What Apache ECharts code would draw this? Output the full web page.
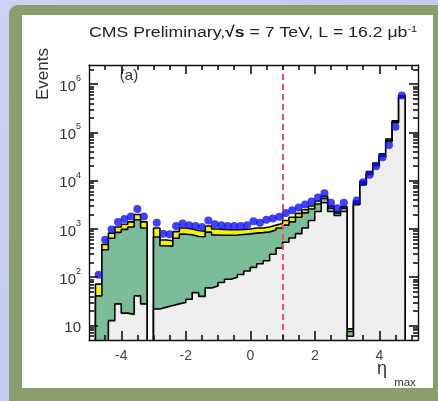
<!DOCTYPE html>
<html><head><meta charset="utf-8">
<script src="https://cdn.jsdelivr.net/npm/echarts@6/dist/echarts.min.js"></script>
<style>
html,body{margin:0;padding:0;width:438px;height:401px;overflow:hidden;}
body{background:linear-gradient(135deg,#cdd1f3,#bcc4ee);position:relative;}
#frame{position:absolute;left:9px;top:5px;width:445px;height:420px;background:#8c9e6e;border-radius:9px;}
#panel{position:absolute;left:22px;top:15px;width:411px;height:373px;background:#ffffff;}
#chart{position:absolute;left:0;top:0;width:438px;height:401px;}
</style></head><body>
<div id="frame"></div><div id="panel"></div><div id="chart"></div>
<script>
// ---- data (eta_max histogram, bin width 0.2) ----
const binLow = [-4.8,-4.6,-4.4,-4.2,-4.0,-3.8,-3.6,-3.4,-3.2,-3.0,-2.8,-2.6,-2.4,-2.2,-2.0,-1.8,-1.6,-1.4,-1.2,-1.0,-0.8,-0.6,-0.4,-0.2,0.0,0.2,0.4,0.6,0.8,1.0,1.2,1.4,1.6,1.8,2.0,2.2,2.4,2.6,2.8,3.0,3.2,3.4,3.6,3.8,4.0,4.2,4.4,4.6];
const binWidth = 0.2;
// data points (null = empty bin)
const dataEvents = [112,600,980,1400,1600,1820,2600,1820,null,1350,800,780,1150,1300,1200,1150,1100,1500,1250,1200,1150,1150,1150,1200,1450,1350,1550,1650,1800,2150,2450,2800,3200,3700,4500,5500,3500,2700,3500,null,3900,9300,13300,19900,30500,55000,131000,580000];
// stacked MC levels (cumulative top of each coloured band)
const stackTotal = [72,480,820,1100,1250,1400,2000,1400,1,1050,590,570,880,1050,1000,930,900,1150,1000,980,960,960,980,1000,1050,1050,1100,1200,1300,1500,1750,2100,2500,3000,3800,4800,3000,2300,2900,8.5,3800,9700,15500,23300,36000,73000,175000,580000];
const stackMid = [41,370,640,850,980,1100,1550,1050,1,680,450,440,640,780,760,700,690,860,750,740,740,750,770,790,820,840,870,950,1050,1200,1400,1750,2150,2600,3300,4300,2700,2150,2700,7.5,3500,9000,14500,22000,34000,69000,168000,560000];
const stackBase = [2,2,12.6,28,18,17,41,28,1,22,24,26,28,30,35,48,40,60,66,78,91,100,114,135,160,190,220,300,400,530,650,800,1050,1500,2300,3500,2300,1900,2300,6,3200,8300,13500,20500,32000,65000,160000,540000];
// axis ticks
const xMajorTicks = [-4,-2,0,2,4];
const xMinorTicks = [-4.5,-3.5,-3,-2.5,-1.5,-1,-0.5,0.5,1,1.5,2.5,3,3.5,4.5,5];
const yMajorTicks = [10,100,1000,10000,100000,1000000];
const yMinorTicks = [6,7,8,9,20,30,40,50,60,70,80,90,200,300,400,500,600,700,800,900,2000,3000,4000,5000,6000,7000,8000,9000,20000,30000,40000,50000,60000,70000,80000,90000,200000,300000,400000,500000,600000,700000,800000,900000,2000000];
const cutEta = 1;

const floorVal = 1; // below axis minimum, clipped
function stepPoints(levels){
  const pts = [[binLow[0], floorVal]];
  levels.forEach((v,i)=>pts.push([binLow[i], v]));
  const last = binLow[binLow.length-1] + binWidth;
  pts.push([last, levels[levels.length-1]]);
  pts.push([last, floorVal]);
  return pts;
}
const dataPts = [];
dataEvents.forEach((v,i)=>{ if(v!==null) dataPts.push([binLow[i]+binWidth/2, v]); });

const FONT = 'Liberation Sans, Arial, sans-serif';
const blk = {color:'#111', width:1.4};
const tk = {color:'#111', width:1.6};
function xAx(pos, ticks, len, showLine, showLabel){
  return {type:'value', min:-5, max:5.2, position:pos, z:10,
    axisLine:{show:showLine, onZero:false, lineStyle:blk},
    axisTick:{show:true, inside:true, length:len, customValues:ticks, lineStyle:tk},
    axisLabel: showLabel ? {show:true, customValues:ticks, margin:9, fontSize:14, color:'#444', fontFamily:FONT} : {show:false},
    splitLine:{show:false}, minorTick:{show:false}};
}
function yAx(pos, ticks, len, showLine, showLabel){
  return {type:'log', logBase:10, min:5, max:2.5e6, position:pos, z:10,
    axisLine:{show:showLine, onZero:false, lineStyle:blk},
    axisTick:{show:true, inside:true, length:len, customValues:ticks, lineStyle:tk},
    axisLabel: showLabel ? {show:true, customValues:ticks, margin:8, fontFamily:FONT,
      formatter: v => { const e = Math.round(Math.log10(v)); return e===1 ? '{b|10}' : '{b|10}{s|'+e+'}'; },
      rich:{b:{fontSize:15, color:'#333', fontFamily:FONT, lineHeight:20, padding:[5,0,0,0]}, s:{fontSize:9, color:'#333', fontFamily:FONT, verticalAlign:'top', lineHeight:10}}} : {show:false},
    splitLine:{show:false}, minorTick:{show:false}};
}

function areaSeries(name, levels, color, z){
  return {name, type:'line', xAxisIndex:0, yAxisIndex:0, data:stepPoints(levels), step:'end',
    showSymbol:false, symbol:'none', clip:true, z,
    lineStyle:{color:'#000', width:1.6},
    areaStyle:{color, opacity:1, origin:'start'}, silent:true};
}

const chart = echarts.init(document.getElementById('chart'), null, {renderer:'canvas'});
chart.setOption({
  animation:false,
  backgroundColor:'transparent',
  grid:{left:89, right:20, top:65, bottom:61, containLabel:false},
  xAxis:[xAx('bottom', xMajorTicks, 9, true, true), xAx('bottom', xMinorTicks, 5, false, false),
         xAx('top', xMajorTicks, 9, true, false), xAx('top', xMinorTicks, 5, false, false)],
  yAxis:[yAx('left', yMajorTicks, 9, true, true), yAx('left', yMinorTicks, 5, false, false),
         yAx('right', yMajorTicks, 9, true, false), yAx('right', yMinorTicks, 5, false, false)],
  series:[
    areaSeries('total', stackTotal, '#f4f200', 2),
    areaSeries('mid', stackMid, '#7bbd98', 3),
    areaSeries('base', stackBase, '#eeeeee', 4),
    {name:'data', type:'scatter', xAxisIndex:0, yAxisIndex:0, data:dataPts, symbol:'circle', symbolSize:8,
      itemStyle:{color:'#1010f2'}, z:6, clip:true, silent:true,
      markLine:{silent:true, symbol:'none', label:{show:false}, z:5,
        lineStyle:{color:'#ef4f6c', width:2, type:[6,4]}, data:[{xAxis:cutEta}]}}
  ],
  graphic:[
    {type:'text', x:253, y:33, scaleX:1.14, originX:0, style:{text:'{a|CMS Preliminary,}{r|√s}{a| = 7 TeV, L = 16.2 }{a|μb}{s|-1}',
      textAlign:'center', textVerticalAlign:'middle',
      rich:{a:{fontSize:15.5, fontFamily:FONT, fill:'#222', lineHeight:18}, r:{fontSize:15.5, fontFamily:FONT, fontWeight:'bold', fill:'#222', lineHeight:18}, s:{fontSize:9.5, fontFamily:FONT, fill:'#222', verticalAlign:'top', lineHeight:9}}}},
    {type:'text', x:43, y:74, rotation:Math.PI/2, style:{text:'Events', textAlign:'center', textVerticalAlign:'middle', font:'17px '+FONT, fill:'#333'}},
    {type:'text', x:129, y:76, style:{text:'(a)', textAlign:'center', textVerticalAlign:'middle', font:'15px '+FONT, fill:'#333'}},
    {type:'text', x:382, y:369, style:{text:'η', textAlign:'center', textVerticalAlign:'middle', font:'18px '+FONT, fill:'#333'}},
    {type:'text', x:405, y:383, style:{text:'max', textAlign:'center', textVerticalAlign:'middle', font:'11.5px '+FONT, fill:'#333'}}
  ]
});
</script></body></html>
